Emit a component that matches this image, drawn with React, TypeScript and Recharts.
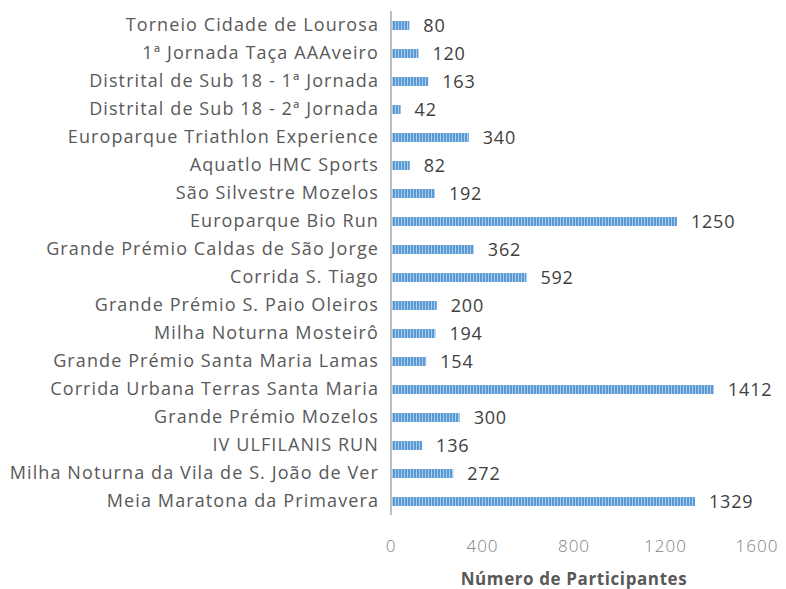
import { BarChart, Bar, XAxis, YAxis, LabelList } from 'recharts';

const events = [
  'Torneio Cidade de Lourosa',
  '1ª Jornada Taça AAAveiro',
  'Distrital de Sub 18 - 1ª Jornada',
  'Distrital de Sub 18 - 2ª Jornada',
  'Europarque Triathlon Experience',
  'Aquatlo HMC Sports',
  'São Silvestre Mozelos',
  'Europarque Bio Run',
  'Grande Prémio Caldas de São Jorge',
  'Corrida S. Tiago',
  'Grande Prémio S. Paio Oleiros',
  'Milha Noturna Mosteirô',
  'Grande Prémio Santa Maria Lamas',
  'Corrida Urbana Terras Santa Maria',
  'Grande Prémio Mozelos',
  'IV ULFILANIS RUN',
  'Milha Noturna da Vila de S. João de Ver',
  'Meia Maratona da Primavera',
];
const participants = [80, 120, 163, 42, 340, 82, 192, 1250, 362, 592, 200, 194, 154, 1412, 300, 136, 272, 1329];
const xTicks = [0, 400, 800, 1200, 1600];

const data = events.map((name, i) => ({ name, value: participants[i] }));

const font = '"Open Sans", sans-serif';

export default function App() {
  return (
    <div style={{ position: 'absolute', left: 0, top: 0, background: '#fff' }}>
      <BarChart
        width={786}
        height={589}
        data={data}
        layout="vertical"
        margin={{ top: 11, right: 29, left: 0, bottom: 0 }}
      >
        <defs>
          <pattern id="stripes" width="3" height="10" patternUnits="userSpaceOnUse">
            <rect x="0" y="0" width="3" height="10" fill="#5B9BD5" />
            <rect x="2" y="0" width="1" height="10" fill="#a9cbec" />
          </pattern>
        </defs>
        <XAxis
          type="number"
          domain={[0, 1600]}
          ticks={xTicks}
          axisLine={false}
          tickLine={false}
          tickSize={0}
          tickMargin={25}
          height={74}
          tick={{ fill: '#808080', fontSize: 17, fontFamily: font, fontWeight: 300, letterSpacing: 1 }}
          label={{
            value: 'Número de Participantes',
            position: 'insideBottom',
            offset: 4,
            fill: '#595959',
            fontSize: 17,
            fontWeight: 'bold',
            fontFamily: font,
            letterSpacing: 0.6,
          }}
        />
        <YAxis
          type="category"
          dataKey="name"
          width={391}
          interval={0}
          tickLine={false}
          tickSize={0}
          tickMargin={12}
          axisLine={{ stroke: '#bfbfbf', strokeWidth: 2 }}
          tick={{ fill: '#595959', fontSize: 18, fontFamily: font, letterSpacing: 1.1 }}
        />
        <Bar dataKey="value" fill="url(#stripes)" barSize={9} isAnimationActive={false}>
          <LabelList
            dataKey="value"
            position="right"
            offset={14}
            fill="#404040"
            fontSize={18}
            fontFamily={font}
            letterSpacing={0.8}
          />
        </Bar>
      </BarChart>
    </div>
  );
}
